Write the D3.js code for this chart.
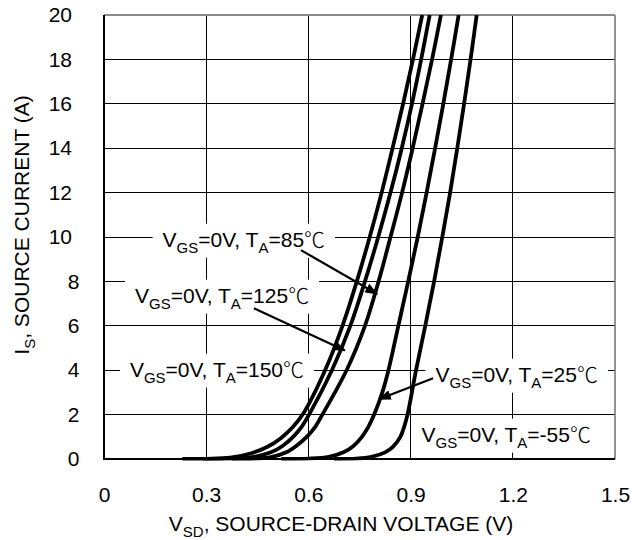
<!DOCTYPE html>
<html><head><meta charset="utf-8">
<script src="https://cdn.jsdelivr.net/npm/d3@7/dist/d3.min.js"></script>
<style>
body{margin:0;background:#fff}
svg{display:block}
text{font-family:"Liberation Sans",Arial,Helvetica,sans-serif;fill:#000}
</style>
</head><body>
<svg id="chart" width="632" height="540"></svg>
<script>
// ---- data ----
const xTicks = [0, 0.3, 0.6, 0.9, 1.2, 1.5];
const yTicks = [0, 2, 4, 6, 8, 10, 12, 14, 16, 18, 20];
const temperatures = ["150", "125", "85", "25", "-55"];

const vsd150 = [0.23, 0.30, 0.37, 0.43, 0.48, 0.52, 0.555, 0.583, 0.649, 0.700, 0.742, 0.780, 0.815, 0.847, 0.878, 0.907, 0.934];
const is150  = [0,    0.01, 0.06, 0.25, 0.55, 0.95, 1.45,  2,     4,     6,     8,     10,    12,    14,    16,    18,    20];

const vsd125 = [0.29, 0.36, 0.43, 0.49, 0.525, 0.555, 0.580, 0.602, 0.669, 0.723, 0.766, 0.805, 0.841, 0.874, 0.904, 0.931, 0.956];
const is125  = [0,    0.01, 0.07, 0.30, 0.60,  1.0,   1.45,  2,     4,     6,     8,     10,    12,    14,    16,    18,    20];

const vsd85  = [0.375, 0.44, 0.49, 0.535, 0.565, 0.595, 0.620, 0.641, 0.712, 0.766, 0.806, 0.841, 0.875, 0.906, 0.935, 0.963, 0.989];
const is85   = [0,     0.01, 0.08, 0.30,  0.60,  1.0,   1.45,  2,     4,     6,     8,     10,    12,    14,    16,    18,    20];

const vsd25  = [0.52, 0.60, 0.66, 0.703, 0.733, 0.757, 0.776, 0.793, 0.817, 0.835, 0.864, 0.893, 0.921, 0.947, 0.972, 0.996, 1.019, 1.041];
const is25   = [0,    0.02, 0.10, 0.30,  0.60,  1.0,   1.45,  2,     3,     4,     6,     8,     10,    12,    14,    16,    18,    20];

const vsdM55 = [0.675, 0.74, 0.785, 0.825, 0.848, 0.870, 0.881, 0.891, 0.916, 0.943, 0.969, 0.993, 1.016, 1.037, 1.057, 1.076, 1.094];
const isM55  = [0,     0.02, 0.10,  0.30,  0.55,  1.0,   1.45,  2,     4,     6,     8,     10,    12,    14,    16,    18,    20];

const seriesV = [vsd150, vsd125, vsd85, vsd25, vsdM55];
const seriesI = [is150, is125, is85, is25, isM55];

// annotation anchors (in data units: V, A)
const labelTemps  = ["85", "125", "150", "25", "-55"];
const labelAnchor = [[0.172, 9.56], [0.091, 7.04], [0.076, 3.71], [0.973, 3.48], [0.932, 0.78]];
const arrowFrom   = [[0.578, 9.41], [0.440, 6.79], null, [0.966, 3.64], null];
const arrowTo     = [[0.802, 7.43], [0.707, 4.89], null, [0.807, 2.69], null];

// ---- chart ----
const svg = d3.select("#chart");
const x = d3.scaleLinear().domain([0, 1.5]).range([104, 615]);
const y = d3.scaleLinear().domain([0, 20]).range([459, 15]);

svg.append("defs").append("clipPath").attr("id", "plot")
  .append("rect").attr("x", x(0)).attr("y", y(20)).attr("width", x(1.5) - x(0)).attr("height", y(0) - y(20) + 1.5);

const grid = svg.append("g").attr("shape-rendering", "crispEdges");
grid.selectAll("line.v").data(xTicks.filter(d => d > 0 && d < 1.5)).join("line")
  .attr("x1", d => x(d)).attr("x2", d => x(d)).attr("y1", y(20)).attr("y2", y(0))
  .attr("stroke", "#000").attr("stroke-width", 1);
grid.selectAll("line.h").data(yTicks.filter(d => d > 0 && d < 20)).join("line")
  .attr("x1", x(0)).attr("x2", x(1.5)).attr("y1", d => y(d)).attr("y2", d => y(d))
  .attr("stroke", "#000").attr("stroke-width", 1);
// frame
svg.append("line").attr("x1", x(0)).attr("x2", x(1.5)).attr("y1", y(20)).attr("y2", y(20)).attr("stroke", "#8a8a8a").attr("stroke-width", 2);
svg.append("line").attr("x1", x(1.5)).attr("x2", x(1.5)).attr("y1", y(20)).attr("y2", y(0)).attr("stroke", "#777").attr("stroke-width", 1.6);
svg.append("line").attr("x1", x(0)).attr("x2", x(0)).attr("y1", y(20)).attr("y2", y(0)).attr("stroke", "#000").attr("stroke-width", 2);
svg.append("line").attr("x1", x(0) - 1).attr("x2", x(1.5)).attr("y1", y(0)).attr("y2", y(0)).attr("stroke", "#000").attr("stroke-width", 2);

// axes labels
const yAxis = d3.axisLeft(y).tickValues(yTicks).tickSize(0).tickPadding(32).tickFormat(d3.format("d"));
const gy = svg.append("g").attr("transform", `translate(${x(0)},0)`).call(yAxis);
gy.select(".domain").remove();
gy.selectAll("text").attr("font-size", 21).attr("font-family", '"Liberation Sans",Arial,sans-serif')
  .attr("dx", d => d < 10 ? 7.5 : 0);

const xAxis = d3.axisBottom(x).tickValues(xTicks).tickSize(0).tickPadding(28)
  .tickFormat(d => d === 0 ? "0" : d.toFixed(1));
const gx = svg.append("g").attr("transform", `translate(0,${y(0)})`).call(xAxis);
gx.select(".domain").remove();
gx.selectAll("text").attr("font-size", 21).attr("font-family", '"Liberation Sans",Arial,sans-serif');

// axis titles
const xt = svg.append("text").attr("x", 341).attr("y", 531).attr("text-anchor", "middle").attr("font-size", 21);
xt.append("tspan").text("V");
xt.append("tspan").text("SD").attr("font-size", 15).attr("dy", 6);
xt.append("tspan").text(", SOURCE-DRAIN VOLTAGE (V)").attr("dy", -6);

const yt = svg.append("text").attr("transform", "translate(29,225) rotate(-90)").attr("text-anchor", "middle").attr("font-size", 21);
yt.append("tspan").text("I");
yt.append("tspan").text("S").attr("font-size", 15).attr("dy", 6);
yt.append("tspan").text(", SOURCE CURRENT (A)").attr("dy", -6);

// labels with white boxes
const labels = svg.append("g");
labelTemps.forEach((t, k) => {
  const g = labels.append("g");
  const txt = g.append("text").attr("x", x(labelAnchor[k][0])).attr("y", y(labelAnchor[k][1])).attr("font-size", 21);
  txt.append("tspan").text("V");
  txt.append("tspan").text("GS").attr("font-size", 15).attr("dy", 6);
  txt.append("tspan").text("=0V, T").attr("dy", -6);
  txt.append("tspan").text("A").attr("font-size", 15).attr("dy", 6);
  txt.append("tspan").text("=" + t).attr("dy", -6);
  txt.append("tspan").text("\u2103").attr("font-family", '"Noto Sans CJK JP",sans-serif').attr("font-weight", 300).attr("font-size", 21);
  const bb = txt.node().getBBox();
  g.insert("rect", "text").attr("x", bb.x - 10).attr("y", bb.y + 1).attr("width", bb.width + 20).attr("height", bb.height + 1).attr("fill", "#fff");
});

// curves
const line = d3.line().x(d => x(d[0])).y(d => y(d[1])).curve(d3.curveCatmullRom.alpha(0.5));
svg.append("g").attr("clip-path", "url(#plot)").selectAll("path").data(temperatures).join("path")
  .attr("d", (t, k) => line(seriesV[k].map((v, j) => [v, seriesI[k][j]])))
  .attr("fill", "none").attr("stroke", "#000").attr("stroke-width", 3.8).attr("stroke-linejoin", "round").attr("stroke-linecap", "butt");

// arrows
svg.select("defs").append("marker").attr("id", "ah").attr("markerUnits", "userSpaceOnUse")
  .attr("markerWidth", 14).attr("markerHeight", 10).attr("refX", 12).attr("refY", 5).attr("orient", "auto")
  .append("path").attr("d", "M0,0 L13,5 L0,10 Z").attr("fill", "#000");
svg.append("g").selectAll("line").data(labelTemps.map((t, k) => k).filter(k => arrowFrom[k])).join("line")
  .attr("x1", k => x(arrowFrom[k][0])).attr("y1", k => y(arrowFrom[k][1]))
  .attr("x2", k => x(arrowTo[k][0])).attr("y2", k => y(arrowTo[k][1]))
  .attr("stroke", "#000").attr("stroke-width", 2.2).attr("marker-end", "url(#ah)");
</script>
</body></html>
